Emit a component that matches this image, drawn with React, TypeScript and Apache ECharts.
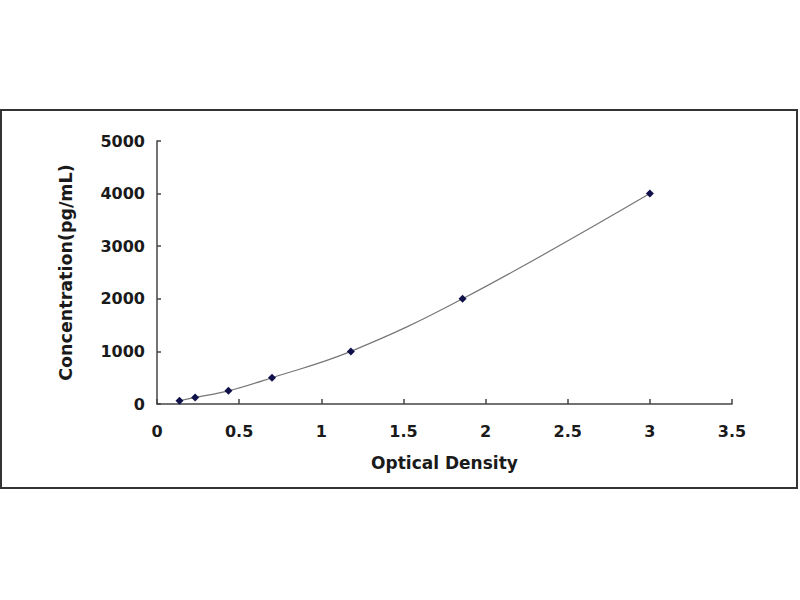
import React, { useEffect, useRef } from "react";
import * as echarts from "echarts";

const opticalDensity = [0.137, 0.232, 0.435, 0.7, 1.18, 1.86, 3.0];
const concentration = [62.5, 125, 250, 500, 1000, 2000, 4000];
const xTicks = { min: 0, max: 3.5, interval: 0.5 };
const yTicks = { min: 0, max: 5000, interval: 1000 };

export default function App() {
  const ref = useRef<HTMLDivElement>(null);
  useEffect(() => {
    if (!ref.current) return;
    const chart = echarts.init(ref.current, null, { renderer: "svg" });
    const data = opticalDensity.map((x, i) => [x, concentration[i]]);
    const font = "'DejaVu Sans', Verdana, sans-serif";
    chart.setOption({
      animation: false,
      backgroundColor: "#ffffff",
      grid: { left: 157, right: 68, top: 141, bottom: 196 },
      graphic: [
        {
          type: "rect",
          shape: { x: 1, y: 110, width: 796, height: 378 },
          style: { fill: "none", stroke: "#333333", lineWidth: 2 },
          silent: true,
        },
      ],
      xAxis: {
        type: "value",
        min: xTicks.min,
        max: xTicks.max,
        interval: xTicks.interval,
        name: "Optical Density",
        nameLocation: "middle",
        nameGap: 50,
        nameTextStyle: { fontFamily: font, fontWeight: "bold", fontSize: 17, color: "#1a1a1a" },
        axisLine: { show: true, lineStyle: { color: "#444", width: 1.5 } },
        axisTick: { show: true, inside: true, length: 5, lineStyle: { color: "#444", width: 1.5 } },
        axisLabel: {
          fontFamily: font,
          fontWeight: "bold",
          fontSize: 16,
          color: "#1a1a1a",
          margin: 19,
          formatter: (v: number) => String(v),
        },
        splitLine: { show: false },
      },
      yAxis: {
        type: "value",
        min: yTicks.min,
        max: yTicks.max,
        interval: yTicks.interval,
        name: "Concentration(pg/mL)",
        nameLocation: "middle",
        nameGap: 82,
        nameTextStyle: { fontFamily: font, fontWeight: "bold", fontSize: 17.5, color: "#1a1a1a" },
        axisLine: { show: true, lineStyle: { color: "#444", width: 1.5 } },
        axisTick: { show: true, inside: true, length: 4, lineStyle: { color: "#444", width: 1.5 } },
        axisLabel: {
          fontFamily: font,
          fontWeight: "bold",
          fontSize: 16,
          color: "#1a1a1a",
          margin: 12,
          formatter: (v: number) => String(v),
        },
        splitLine: { show: false },
      },
      series: [
        {
          type: "line",
          data,
          smooth: 0.4,
          symbol: "diamond",
          symbolSize: 8,
          itemStyle: { color: "#10104a" },
          lineStyle: { color: "#777", width: 1.2 },
        },
      ],
    });
    return () => chart.dispose();
  }, []);
  return (
    <div
      ref={ref}
      style={{ position: "fixed", left: 0, top: 0, width: 800, height: 600, background: "#fff" }}
    />
  );
}
